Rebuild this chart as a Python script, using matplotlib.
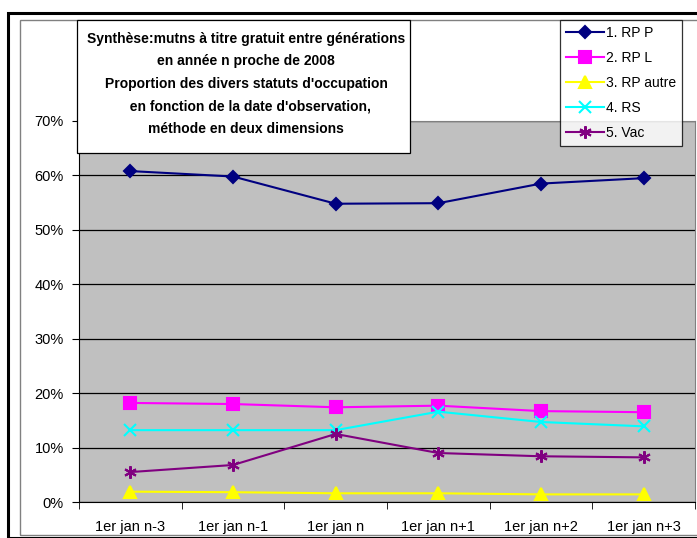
import numpy as np
import matplotlib.pyplot as plt
from matplotlib.patches import Rectangle

plt.rcParams['font.family'] = ['Liberation Sans', 'DejaVu Sans']

categories = ["1er jan n-3", "1er jan n-1", "1er jan n", "1er jan n+1", "1er jan n+2", "1er jan n+3"]
rp_p = [60.8, 59.8, 54.8, 54.9, 58.5, 59.5]
rp_l = [18.2, 18.0, 17.4, 17.7, 16.7, 16.5]
rp_autre = [1.9, 1.8, 1.6, 1.6, 1.4, 1.4]
rs = [13.2, 13.2, 13.2, 16.6, 14.7, 13.9]
vac = [5.5, 6.8, 12.5, 9.0, 8.4, 8.2]

W, H = 697, 538
fig = plt.figure(figsize=(W / 100, H / 100), dpi=100)

# outer frames
fig.patches.append(Rectangle((8 / W, 0), 1.0, 1 - 13 / H, transform=fig.transFigure,
                             fill=False, edgecolor='black', linewidth=2.2))
fig.patches.append(Rectangle((20 / W, 3 / H), 1.0, 1 - 23 / H, transform=fig.transFigure,
                             fill=False, edgecolor='#808080', linewidth=1.0))

ax = fig.add_axes([79 / W, (H - 502) / H, 616 / W, 381 / H])
ax.set_facecolor('#C0C0C0')

x = np.arange(len(categories))
series = [
    (rp_p, '1. RP P', '#000080', 'D', 6),
    (rp_l, '2. RP L', '#FF00FF', 's', 8),
    (rp_autre, '3. RP autre', '#FFFF00', '^', 8),
    (rs, '4. RS', '#00FFFF', 'x', 8),
    (vac, '5. Vac', '#800080', (6, 2, 0), 9),
]
handles = []
for vals, lab, col, mk, ms in series:
    h, = ax.plot(x, vals, color=col, marker=mk, markersize=ms, linewidth=1.5,
                 markeredgecolor=col, markerfacecolor=col, markeredgewidth=1.5,
                 label=lab, zorder=3)
    handles.append(h)

ax.set_xlim(-0.5, len(categories) - 0.5)
ax.set_ylim(0, 70)
ax.set_yticks(np.arange(0, 71, 10))
ax.set_yticklabels([f"{v}%" for v in range(0, 71, 10)], fontsize=10.5)
ax.yaxis.grid(True, color='black', linewidth=0.9)
ax.set_axisbelow(True)
ax.set_xticks(x)
ax.set_xticklabels(categories, fontsize=10.5)
ax.tick_params(axis='x', length=0, pad=13)
ax.set_xticks(np.arange(-0.5, len(categories), 1), minor=True)
ax.tick_params(axis='x', which='minor', length=5, direction='out', color='black')
ax.tick_params(axis='y', length=5, direction='out', color='black', pad=6)
for s in ['top', 'right']:
    ax.spines[s].set_color('#808080')
for s in ['left', 'bottom']:
    ax.spines[s].set_color('black')

title = ("Synthèse:mutns à titre gratuit entre générations\n"
         "en année n proche de 2008\n"
         "Proportion des divers statuts d'occupation\n"
         "  en fonction de la date d'observation,\n"
         "méthode en deux dimensions")
fig.patches.append(Rectangle((77 / W, 1 - 153 / H), 333 / W, 133 / H, transform=fig.transFigure,
                             facecolor='white', edgecolor='black', linewidth=0.9, zorder=5))
fig.text(246 / W, 1 - 84 / H, title, ha='center', va='center', fontsize=10,
         fontweight='bold', linespacing=1.78, zorder=6)

leg = fig.legend(handles=handles, loc='upper left', bbox_to_anchor=(560 / W, 1 - 20 / H),
                 fontsize=10, frameon=True, fancybox=False, edgecolor='black',
                 borderpad=0.45, labelspacing=0.78, handlelength=2.7, handletextpad=0.15,
                 borderaxespad=0)
leg.get_frame().set_linewidth(0.9)

fig.savefig('out.png', dpi=100)
